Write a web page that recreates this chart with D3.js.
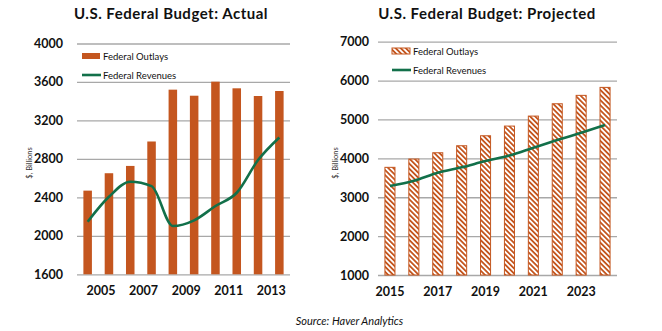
<!DOCTYPE html>
<html>
<head>
<meta charset="utf-8">
<script src="https://cdn.jsdelivr.net/npm/d3@7"></script>
<style>
  body { margin: 0; background: #fff; }
  svg { display: block; }
  text { font-family: Lato, "Open Sans", sans-serif; }
</style>
</head>
<body>
<svg id="chart" width="662" height="331"></svg>
<script>
// actual budget, $ billions
var actualYears = [2004, 2005, 2006, 2007, 2008, 2009, 2010, 2011, 2012, 2013];
var actualOutlays = [2470, 2651, 2727, 2981, 3520, 3457, 3603, 3534, 3454, 3506];
var actualRevenues = [2147, 2406, 2562, 2517, 2102, 2161, 2310, 2448, 2788, 3023];
var actualTicks = [1600, 2000, 2400, 2800, 3200, 3600, 4000];
var actualYearLabels = [2005, 2007, 2009, 2011, 2013];

// projected budget, $ billions
var projYears = [2015, 2016, 2017, 2018, 2019, 2020, 2021, 2022, 2023, 2024];
var projOutlays = [3769, 3982, 4144, 4324, 4581, 4830, 5087, 5404, 5620, 5825];
var projRevenues = [3288, 3424, 3630, 3769, 3931, 4072, 4272, 4470, 4658, 4856];
var projTicks = [1000, 2000, 3000, 4000, 5000, 6000, 7000];
var projYearLabels = [2015, 2017, 2019, 2021, 2023];

var ORANGE = "#c4561f";
var GREEN = "#12704a";
var GRID = "#a8a8a8";

var svg = d3.select("#chart");

var defs = svg.append("defs");
var hatch = defs.append("pattern")
    .attr("id", "hatch")
    .attr("patternUnits", "userSpaceOnUse")
    .attr("width", 3.6)
    .attr("height", 3.6)
    .attr("patternTransform", "rotate(-45)");
hatch.append("rect").attr("width", 3.6).attr("height", 3.6).attr("fill", "#fff");
hatch.append("rect").attr("width", 1.8).attr("height", 3.6).attr("fill", ORANGE);

function drawPanel(cfg) {
    var g = svg.append("g");

    var x = d3.scaleBand()
        .domain(cfg.years)
        .range([cfg.left, cfg.right])
        .paddingInner(cfg.pad)
        .paddingOuter(cfg.pad / 2);
    var y = d3.scaleLinear()
        .domain(d3.extent(cfg.ticks))
        .range([cfg.bottom, cfg.top]);

    // gridlines + value labels
    var yAxis = g.append("g")
        .attr("transform", "translate(" + cfg.left + ",0)")
        .call(d3.axisLeft(y)
            .tickValues(cfg.ticks)
            .tickFormat(d3.format("d"))
            .tickSizeInner(-(cfg.right - cfg.left))
            .tickSizeOuter(0)
            .tickPadding(cfg.tickPad));
    yAxis.select(".domain").remove();
    yAxis.selectAll("line").attr("stroke", GRID).attr("stroke-width", 1.3);
    yAxis.selectAll("text")
        .attr("font-family", "Lato, sans-serif")
        .attr("font-weight", "bold")
        .attr("font-size", 12.5)
        .attr("fill", "#111");

    // outlays
    g.selectAll(".bar")
        .data(cfg.years)
        .enter().append("rect")
        .attr("class", "bar")
        .attr("x", function (d) { return x(d); })
        .attr("width", x.bandwidth())
        .attr("y", function (d, i) { return y(cfg.outlays[i]); })
        .attr("height", function (d, i) { return cfg.bottom - y(cfg.outlays[i]); })
        .attr("fill", cfg.hatched ? "url(#hatch)" : ORANGE)
        .attr("stroke", cfg.hatched ? ORANGE : "none")
        .attr("stroke-width", 1);

    // revenues
    var line = d3.line()
        .x(function (d, i) { return x(cfg.years[i]) + x.bandwidth() / 2; })
        .y(function (d) { return y(d); })
        .curve(d3.curveMonotoneX);
    g.append("path")
        .datum(cfg.revenues)
        .attr("d", line)
        .attr("fill", "none")
        .attr("stroke", GREEN)
        .attr("stroke-width", 2.6);

    // year labels
    var xAxis = g.append("g")
        .attr("transform", "translate(0," + cfg.bottom + ")")
        .call(d3.axisBottom(x)
            .tickValues(cfg.yearLabels)
            .tickSize(0)
            .tickPadding(12));
    xAxis.select(".domain").remove();
    xAxis.selectAll("text")
        .attr("dx", cfg.labelShift)
        .attr("font-family", "Lato, sans-serif")
        .attr("font-weight", "bold")
        .attr("font-size", 12.5)
        .attr("fill", "#111");

    // title
    g.append("text")
        .attr("x", cfg.titleX)
        .attr("y", 19)
        .attr("text-anchor", "middle")
        .attr("font-weight", "bold")
        .attr("font-size", 15)
        .attr("letter-spacing", 0.5)
        .attr("fill", "#111")
        .text(cfg.title);

    // unit label
    g.append("text")
        .attr("transform", "translate(" + cfg.unitX + "," + cfg.unitY + ") rotate(-90)")
        .attr("text-anchor", "middle")
        .attr("font-size", 7.5)
        .attr("fill", "#333")
        .text("$, Billions");

    // legend
    var lx = cfg.legendX, ly = cfg.legendY;
    g.append("rect")
        .attr("x", lx).attr("y", ly - 3)
        .attr("width", 18).attr("height", 6)
        .attr("fill", cfg.hatched ? "url(#hatch)" : ORANGE)
        .attr("stroke", cfg.hatched ? ORANGE : "none");
    g.append("line")
        .attr("x1", lx).attr("x2", lx + 19)
        .attr("y1", ly + 19).attr("y2", ly + 19)
        .attr("stroke", GREEN).attr("stroke-width", 2.6);
    g.append("text")
        .attr("x", lx + 21).attr("y", ly + 3.5)
        .attr("font-size", 9.5).attr("fill", "#111")
        .text("Federal Outlays");
    g.append("text")
        .attr("x", lx + 21).attr("y", ly + 22.5)
        .attr("font-size", 9.5).attr("fill", "#111")
        .text("Federal Revenues");
}

drawPanel({
    title: "U.S. Federal Budget: Actual",
    titleX: 171,
    years: actualYears,
    outlays: actualOutlays,
    revenues: actualRevenues,
    ticks: actualTicks,
    yearLabels: actualYearLabels,
    left: 77, right: 290, top: 43.5, bottom: 274.3,
    pad: 0.6, tickPad: 14, labelShift: -8,
    unitX: 32, unitY: 163,
    legendX: 82, legendY: 56,
    hatched: false
});

drawPanel({
    title: "U.S. Federal Budget: Projected",
    titleX: 487,
    years: projYears,
    outlays: projOutlays,
    revenues: projRevenues,
    ticks: projTicks,
    yearLabels: projYearLabels,
    left: 378, right: 617, top: 41.7, bottom: 275,
    pad: 0.58, tickPad: 9, labelShift: 0,
    unitX: 338, unitY: 163,
    legendX: 392, legendY: 51,
    hatched: true
});

svg.append("text")
    .attr("x", 349.5)
    .attr("y", 325)
    .attr("text-anchor", "middle")
    .attr("font-style", "italic")
    .attr("font-size", 11)
    .attr("fill", "#111")
    .text("Source: Haver Analytics");
</script>
</body>
</html>
